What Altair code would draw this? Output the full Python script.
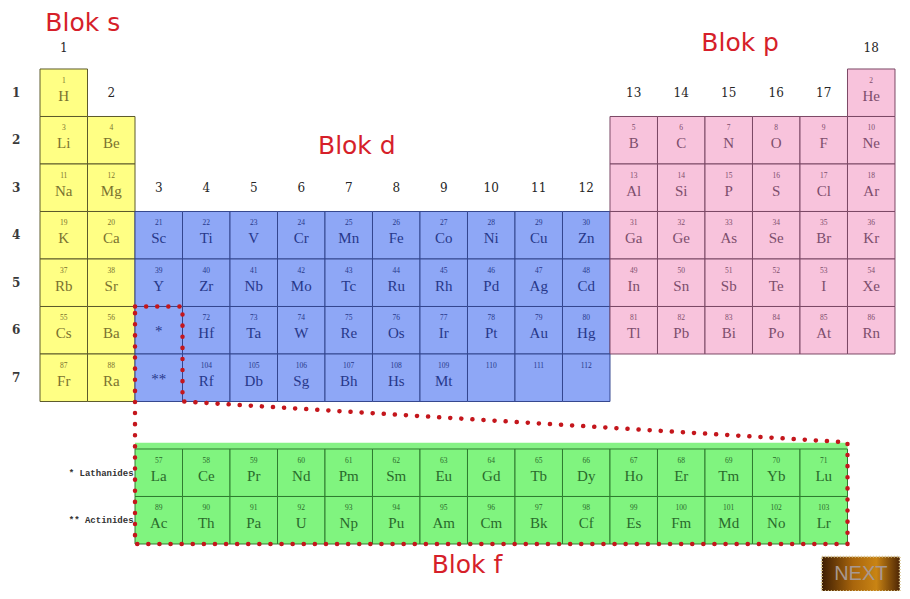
import altair as alt
import pandas as pd

# ---------------- data ----------------
GROUPS_SHORT = [1, 2, 13, 14, 15, 16, 17, 18]
GROUPS_FULL = list(range(1, 19))

P1_SYM = ["H", "He"]
P1_NUM = ["1", "2"]
P1_GRP = [1, 18]

P2_SYM = ["Li", "Be", "B", "C", "N", "O", "F", "Ne"]
P2_NUM = ["3", "4", "5", "6", "7", "8", "9", "10"]

P3_SYM = ["Na", "Mg", "Al", "Si", "P", "S", "Cl", "Ar"]
P3_NUM = ["11", "12", "13", "14", "15", "16", "17", "18"]

P4_SYM = ["K", "Ca", "Sc", "Ti", "V", "Cr", "Mn", "Fe", "Co", "Ni", "Cu", "Zn",
          "Ga", "Ge", "As", "Se", "Br", "Kr"]
P4_NUM = [str(z) for z in [19, 20, 21, 22, 23, 24, 25, 26, 27, 28, 29, 30,
                           31, 32, 33, 34, 35, 36]]

P5_SYM = ["Rb", "Sr", "Y", "Zr", "Nb", "Mo", "Tc", "Ru", "Rh", "Pd", "Ag", "Cd",
          "In", "Sn", "Sb", "Te", "I", "Xe"]
P5_NUM = [str(z) for z in [37, 38, 39, 40, 41, 42, 43, 44, 45, 46, 47, 48,
                           49, 50, 51, 52, 53, 54]]

P6_SYM = ["Cs", "Ba", "*", "Hf", "Ta", "W", "Re", "Os", "Ir", "Pt", "Au", "Hg",
          "Tl", "Pb", "Bi", "Po", "At", "Rn"]
P6_NUM = ["55", "56", "", "72", "73", "74", "75", "76", "77", "78", "79", "80",
          "81", "82", "83", "84", "85", "86"]

P7_SYM = ["Fr", "Ra", "**", "Rf", "Db", "Sg", "Bh", "Hs", "Mt", "", "", ""]
P7_NUM = ["87", "88", "", "104", "105", "106", "107", "108", "109", "110", "111", "112"]

LAN_SYM = ["La", "Ce", "Pr", "Nd", "Pm", "Sm", "Eu", "Gd", "Tb", "Dy", "Ho", "Er",
           "Tm", "Yb", "Lu"]
LAN_NUM = [str(z) for z in [57, 58, 59, 60, 61, 62, 63, 64, 65, 66, 67, 68, 69, 70, 71]]
ACT_SYM = ["Ac", "Th", "Pa", "U", "Np", "Pu", "Am", "Cm", "Bk", "Cf", "Es", "Fm",
           "Md", "No", "Lr"]
ACT_NUM = [str(z) for z in [89, 90, 91, 92, 93, 94, 95, 96, 97, 98, 99, 100, 101, 102, 103]]
F_GROUPS = list(range(3, 18))
LAN_ROW = 9
ACT_ROW = 10

GROUP_LABELS = [str(g) for g in range(1, 19)]
GROUP_LABEL_ROW = [0, 1, 3, 3, 3, 3, 3, 3, 3, 3, 3, 3, 1, 1, 1, 1, 1, 0]
PERIOD_LABELS = ["1", "2", "3", "4", "5", "6", "7"]

BLOCK_TEXT = ["Blok s", "Blok p", "Blok d", "Blok f"]
BLOCK_TX = [0.9, 14.74, 6.67, 8.99]
BLOCK_TY = [-0.97, -0.55, 1.62, 10.44]

SIDE_TEXT = ["* Lathanides", "** Actinides"]
SIDE_ROW = [LAN_ROW, ACT_ROW]

# dotted outline path (grid units)
PATH_X = [2, 3, 3, 17, 17, 2, 2]
PATH_Y = [5, 5, 7, 7.86, 10, 10, 5]

BLOCKS = ["s", "d", "p", "f"]
FILLS = ["#ffff84", "#8ea7f6", "#f8c3dc", "#80f47f"]
STROKES = ["#5c5a2c", "#34468e", "#7c4866", "#2f7c30"]
TEXTS = ["#7a7230", "#27388a", "#7d4e6c", "#2a6a2c"]

# ---------------- build tables ----------------
def block_of(g):
    if g <= 2:
        return "s"
    if g <= 12:
        return "d"
    return "p"

rows = []
def add(period, groups, syms, nums, block=None):
    for g, s, n in zip(groups, syms, nums):
        rows.append(dict(group=g, period=period, sym=s, num=n,
                         block=block if block else block_of(g)))

add(1, P1_GRP, P1_SYM, P1_NUM)
add(2, GROUPS_SHORT, P2_SYM, P2_NUM)
add(3, GROUPS_SHORT, P3_SYM, P3_NUM)
add(4, GROUPS_FULL, P4_SYM, P4_NUM)
add(5, GROUPS_FULL, P5_SYM, P5_NUM)
add(6, GROUPS_FULL, P6_SYM, P6_NUM)
add(7, GROUPS_FULL[:12], P7_SYM, P7_NUM)
add(LAN_ROW, F_GROUPS, LAN_SYM, LAN_NUM, "f")
add(ACT_ROW, F_GROUPS, ACT_SYM, ACT_NUM, "f")

cells = pd.DataFrame(rows)
cells["x0"] = cells["group"] - 1
cells["x1"] = cells["group"]
cells["y0"] = cells["period"] - 1
cells["y1"] = cells["period"]
cells["xc"] = cells["group"] - 0.5
cells["yn"] = cells["period"] - 1 + 0.25
cells["ys"] = cells["period"] - 1 + 0.56
cells.loc[cells["sym"].str.startswith("*"), "ys"] = cells["period"] - 1 + 0.52

glab = pd.DataFrame(dict(label=GROUP_LABELS,
                         x=[g - 0.5 for g in range(1, 19)],
                         y=[r - 0.45 if r == 0 else r - 0.5 for r in GROUP_LABEL_ROW]))
plab = pd.DataFrame(dict(label=PERIOD_LABELS,
                         x=[-0.5] * 7,
                         y=[int(p) - 0.5 for p in PERIOD_LABELS]))
blab = pd.DataFrame(dict(label=BLOCK_TEXT, x=BLOCK_TX, y=BLOCK_TY))
slab = pd.DataFrame(dict(label=SIDE_TEXT, x=[1.97, 1.97],
                         y=[r - 0.5 for r in SIDE_ROW]))
path = pd.DataFrame(dict(x=PATH_X, y=PATH_Y, order=list(range(len(PATH_X)))))
fback = pd.DataFrame(dict(x0=[2], x1=[17], y0=[7.87], y1=[10]))
button = pd.DataFrame(dict(x0=[16.46], x1=[18.1], y0=[10.27], y1=[10.99],
                           xc=[17.28], yc=[10.63], label=["NEXT"]))

# ---------------- scales ----------------
xs = alt.Scale(domain=[-0.6737, 18.1474], nice=False, zero=False)
ys = alt.Scale(domain=[-1.2842, 10.9895], nice=False, zero=False, reverse=True)

def X(f):
    return alt.X(f, type="quantitative", scale=xs, axis=None)

def Y(f):
    return alt.Y(f, type="quantitative", scale=ys, axis=None)

fill_enc = alt.Fill("block:N", scale=alt.Scale(domain=BLOCKS, range=FILLS), legend=None)
stroke_enc = alt.Stroke("block:N", scale=alt.Scale(domain=BLOCKS, range=STROKES), legend=None)
text_enc = alt.Color("block:N", scale=alt.Scale(domain=BLOCKS, range=TEXTS), legend=None)

# ---------------- layers ----------------
green_bg = alt.Chart(fback).mark_rect(fill="#86f285").encode(
    x=X("x0"), x2="x1", y=Y("y0"), y2="y1")

cell_rects = alt.Chart(cells).mark_rect(strokeWidth=1).encode(
    x=X("x0"), x2="x1", y=Y("y0"), y2="y1", fill=fill_enc, stroke=stroke_enc)

num_text = alt.Chart(cells).mark_text(
    font="Liberation Serif", fontSize=7.5, baseline="middle").encode(
    x=X("xc"), y=Y("yn"), text="num:N", color=text_enc)

sym_text = alt.Chart(cells).mark_text(
    font="Liberation Serif", fontSize=15, baseline="middle").encode(
    x=X("xc"), y=Y("ys"), text="sym:N", color=text_enc)

group_text = alt.Chart(glab).mark_text(
    font="DejaVu Serif", fontSize=12, color="#262626", baseline="middle").encode(
    x=X("x"), y=Y("y"), text="label:N")

period_text = alt.Chart(plab).mark_text(
    font="DejaVu Serif", fontSize=12, fontWeight="bold", color="#3a3a3a",
    baseline="middle").encode(x=X("x"), y=Y("y"), text="label:N")

block_text = alt.Chart(blab).mark_text(
    font="DejaVu Sans", fontSize=25, color="#d61f2a", baseline="middle").encode(
    x=X("x"), y=Y("y"), text="label:N")

side_text = alt.Chart(slab).mark_text(
    font="Liberation Mono", fontSize=9, fontWeight="bold", color="#333333",
    align="right", baseline="middle").encode(x=X("x"), y=Y("y"), text="label:N")

dotted = alt.Chart(path).mark_line(
    color="#c4161c", strokeWidth=4.5, strokeDash=[0.1, 11], strokeCap="round").encode(
    x=X("x"), y=Y("y"), order="order:Q")

btn = alt.Chart(button).mark_rect(
    fill=alt.LinearGradient(gradient="linear",
                            stops=[alt.GradientStop(color="#3e1e03", offset=0),
                                   alt.GradientStop(color="#a8650c", offset=0.4),
                                   alt.GradientStop(color="#c98414", offset=0.7),
                                   alt.GradientStop(color="#4e2604", offset=1)],
                            x1=0, x2=1, y1=0, y2=0),
    stroke="#d9c48a", strokeWidth=2, strokeDash=[1, 2]).encode(
    x=X("x0"), x2="x1", y=Y("y0"), y2="y1")

btn_text = alt.Chart(button).mark_text(
    font="Liberation Sans", fontSize=20, color="#a89890", baseline="middle").encode(
    x=X("xc"), y=Y("yc"), text="label:N")

chart = alt.layer(
    green_bg, cell_rects, num_text, sym_text, group_text, period_text,
    block_text, side_text, dotted, btn, btn_text
).properties(
    width=894, height=583, padding=0,
    autosize=alt.AutoSizeParams(type="none"),
    background="white"
).configure_view(strokeWidth=0)

chart.save("out.html", embed_options={"renderer": "svg", "actions": False})
